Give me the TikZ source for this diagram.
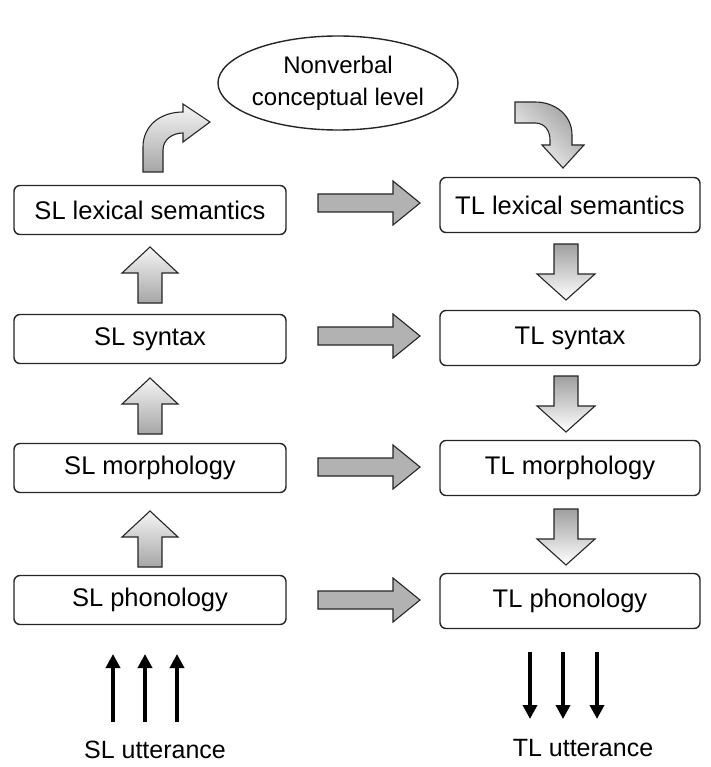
\documentclass[tikz,border=0pt]{standalone}
\usepackage{fontspec}
\setmainfont{Liberation Sans}
\usetikzlibrary{arrows.meta,shapes.geometric}
\tikzset{
  lvl/.style={draw=black!85, line width=1.4pt, rounded corners=6pt, fill=white,
    font=\fontsize{25.5}{30}\selectfont, inner sep=0pt},
  lbox/.style={lvl, minimum width=272pt, minimum height=49pt},
  rbox/.style={lvl, minimum width=260pt, minimum height=55pt},
  blockline/.style={draw=black!85, line width=1.1pt, line join=miter},
  hfill/.style={blockline, fill=gray!60},
  upfill/.style={blockline, top color=gray!8, bottom color=gray!70},
  downfill/.style={blockline, top color=gray!75, bottom color=white},
  thinarrow/.style={line width=4pt, -{Triangle[length=14pt,width=14pt]}},
  lab/.style={font=\fontsize{25}{30}\selectfont, inner sep=0pt},
  harrowpic/.pic={\path[hfill] (-51,-9) -- (24,-9) -- (24,-22) -- (51,0) -- (24,22) -- (24,9) -- (-51,9) -- cycle;},
  uparrowpic/.pic={\path[upfill] (0,0) -- (28,26) -- (12,26) -- (12,56) -- (-12,56) -- (-12,26) -- (-28,26) -- cycle;},
  downarrowpic/.pic={\path[downfill] (-12,0) -- (12,0) -- (12,30) -- (29,30) -- (0,56) -- (-29,30) -- (-12,30) -- cycle;}
}
\begin{document}
\begin{tikzpicture}[x=1pt,y=-1pt]
\useasboundingbox (0,0) rectangle (710,767);
\fill[white] (0,0) rectangle (710,767);

% ellipse
\node[draw=black!85, line width=1.4pt, ellipse, minimum width=240pt, minimum height=94pt,
      inner sep=0pt] (concept) at (338,83) {};
\node[align=center, font=\fontsize{24}{32}\selectfont, inner sep=0pt] (concepttext) at (concept.center)
  {Nonverbal\\conceptual level};

% left boxes
\node[lbox] (slsem) at (150,210) {SL lexical semantics};
\node[lbox] (slsyn) at (150,339) {SL syntax};
\node[lbox] (slmor) at (150,468) {SL morphology};
\node[lbox] (slpho) at (150,600) {SL phonology};

% right boxes
\node[rbox] (tlsem) at (570,205) {TL lexical semantics};
\node[rbox] (tlsyn) at (570,338) {TL syntax};
\node[rbox] (tlmor) at (570,468) {TL morphology};
\node[rbox] (tlpho) at (570,601) {TL phonology};

% horizontal block arrows
\pic at (369,203) {harrowpic};
\pic at (369,336) {harrowpic};
\pic at (369,467) {harrowpic};
\pic at (369,600) {harrowpic};

% up arrows (left)
\pic at (150,247) {uparrowpic};
\pic at (150,378) {uparrowpic};
\pic at (150,511) {uparrowpic};

% down arrows (right)
\pic at (566,244) {downarrowpic};
\pic at (566,376) {downarrowpic};
\pic at (566,509) {downarrowpic};

% curved arrows
\path[upfill] (143,172) -- (143,147) .. controls (143,126) and (160,112) .. (183,112)
  -- (183,104) -- (210,122) -- (183,142) -- (183,133)
  .. controls (172,133) and (163,140) .. (163,150) -- (163,172) -- cycle;
\path[blockline, left color=gray!75, right color=white!95!gray, shading angle=-45]
  (515,102) -- (515,123) -- (535,123) .. controls (545,123) and (550,131) .. (550,140)
  -- (550,145) -- (542,145) -- (563,168) -- (584,145) -- (572,145) -- (572,135)
  .. controls (572,115) and (555,102) .. (535,102) -- cycle;

% utterance labels
\node[lab] (slutt) at (155,750) {SL utterance};
\node[lab] (tlutt) at (583,748) {TL utterance};

% thin black arrows
\coordinate (sa1) at (113,722); \coordinate (sa2) at (145,722); \coordinate (sa3) at (177,722);
\coordinate (sb1) at (113,654); \coordinate (sb2) at (145,654); \coordinate (sb3) at (177,654);
\draw[thinarrow] (sa1) -- (sb1);
\draw[thinarrow] (sa2) -- (sb2);
\draw[thinarrow] (sa3) -- (sb3);
\coordinate (ta1) at (530,652); \coordinate (ta2) at (563,652); \coordinate (ta3) at (597,652);
\coordinate (tb1) at (530,719); \coordinate (tb2) at (563,719); \coordinate (tb3) at (597,719);
\draw[thinarrow] (ta1) -- (tb1);
\draw[thinarrow] (ta2) -- (tb2);
\draw[thinarrow] (ta3) -- (tb3);
\end{tikzpicture}
\end{document}
